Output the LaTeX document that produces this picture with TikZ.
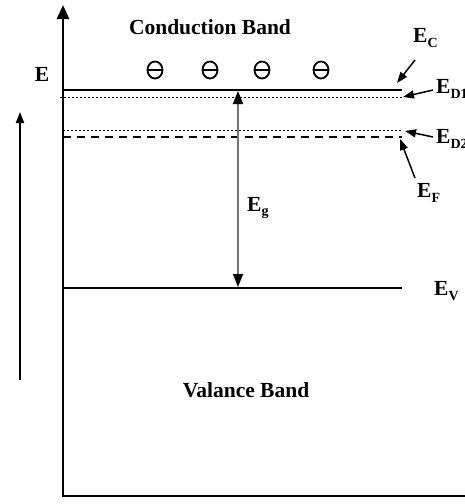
\documentclass[tikz,border=0pt]{standalone}
\usepackage{fontspec}
\setmainfont{Liberation Serif}
\usetikzlibrary{arrows.meta,shapes.geometric}
\newcommand\mysub[1]{\raisebox{-0.45ex}{\fontsize{14}{14}\selectfont\bfseries #1}}
\begin{document}
\begin{tikzpicture}[x=1pt,y=-1pt,
 lbl/.style={font=\fontsize{21.5}{24}\selectfont\bfseries, inner sep=0pt},
 electron/.style={draw, ellipse, minimum width=15pt, minimum height=17pt, inner sep=0pt, line width=1.8pt,
   path picture={\draw[line width=1.8pt] (path picture bounding box.west) -- (path picture bounding box.east);}},
 level/.style={line width=2pt},
 dotlevel/.style={line width=1.7pt, dash pattern=on 1.7pt off 2.3pt},
 dashlevel/.style={line width=2pt, dash pattern=on 8pt off 6pt},
 pointer/.style={line width=1.5pt, -{Triangle[length=11pt,width=8pt]}},
 axis/.style={line width=2.5pt},
 gaparrow/.style={line width=1.6pt, draw=black!55,
   {Triangle[length=13pt,width=10pt,color=black]}-{Triangle[length=13pt,width=10pt,color=black]}}
]
\useasboundingbox (0,0) rectangle (464,504);

% axes
\coordinate (top) at (63,5);
\coordinate (origin) at (63,496);
\coordinate (xend) at (470,496);
\draw[axis, {Triangle[length=14pt,width=12pt]}-] (top) -- (origin) -- (xend);

% energy arrow
\node[lbl] (Elab) at (42,74) {E};
\coordinate (ebot) at (20,380);
\coordinate (etop) at (20,112);
\draw[line width=2pt, -{Triangle[length=11pt,width=8pt]}] (ebot) -- (etop);

% band labels
\node[lbl] (cb) at (210,27) {Conduction Band};
\node[lbl] (vb) at (246,390) {Valance Band};

% electrons
\node[electron] (e1) at (155,70) {};
\node[electron] (e2) at (210,70) {};
\node[electron] (e3) at (262,70) {};
\node[electron] (e4) at (321,70) {};

% levels
\coordinate (ecL) at (63,90);   \coordinate (ecR) at (402,90);
\coordinate (d1L) at (60,97.5); \coordinate (d1R) at (402,97.5);
\coordinate (d2L) at (63,130.5);\coordinate (d2R) at (402,130.5);
\coordinate (efL) at (63,137);  \coordinate (efR) at (402,137);
\coordinate (evL) at (63,288);  \coordinate (evR) at (402,288);
\draw[level] (ecL) -- (ecR);
\draw[dotlevel] (d1L) -- (d1R);
\draw[dotlevel] (d2L) -- (d2R);
\draw[dashlevel] (efL) -- (efR);
\draw[level] (evL) -- (evR);

% band gap
\coordinate (gtop) at (238,91);
\coordinate (gbot) at (238,287);
\draw[gaparrow] (gtop) -- (gbot);
\node[lbl, anchor=west] (Eg) at (247,208) {E\mysub{g}};

% level labels
\node[lbl, anchor=west] (EC) at (413,38) {E\mysub{C}};
\node[lbl, anchor=west] (ED1) at (436,89) {E\mysub{D1}};
\node[lbl, anchor=west] (ED2) at (436,139) {E\mysub{D2}};
\node[lbl, anchor=west] (EF) at (417,193) {E\mysub{F}};
\node[lbl, anchor=west] (EV) at (434,291) {E\mysub{V}};

% pointers
\coordinate (pc1) at (415,60);  \coordinate (pc2) at (397,83);
\coordinate (pd11) at (433,90); \coordinate (pd12) at (403,97);
\coordinate (pd21) at (433,137);\coordinate (pd22) at (405,131);
\coordinate (pf1) at (415,178); \coordinate (pf2) at (400,139);
\draw[pointer] (pc1) -- (pc2);
\draw[pointer] (pd11) -- (pd12);
\draw[pointer] (pd21) -- (pd22);
\draw[pointer] (pf1) -- (pf2);
\end{tikzpicture}
\end{document}
